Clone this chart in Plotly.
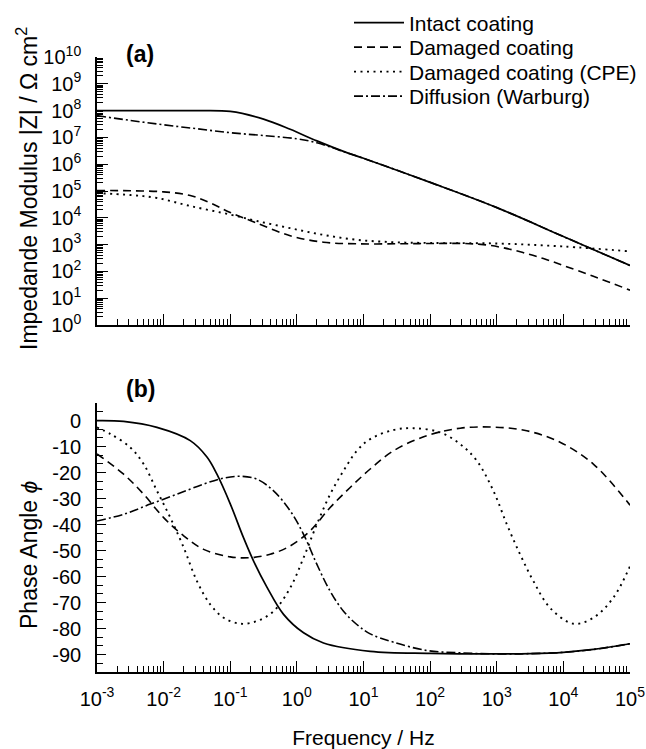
import plotly.graph_objects as go

# ---------------- data ----------------
# (a) impedance modulus |Z| / Ohm cm^2 versus frequency / Hz
f_intact_mod = [0.001, 0.01, 0.0316, 0.1, 0.316, 0.794, 2.0, 5.01, 10, 100, 1000, 10000, 100000]
z_intact = [1.0e8, 1.0e8, 1.0e8, 9.3e7, 4.8e7, 2.0e7, 7.4e6, 3.0e6, 1.66e6, 2.1e5, 2.4e4, 2.0e3, 1.66e2]

f_damaged_mod = [0.001, 0.00316, 0.01, 0.0251, 0.0501, 0.1, 0.251, 0.794, 2.51, 7.94, 31.6,
                 100, 316, 631, 1259, 2512, 5012, 10000, 28184, 100000]
z_damaged = [1.05e5, 1.02e5, 9.3e4, 6.8e4, 3.6e4, 1.58e4, 6.3e3, 2.14e3, 1.23e3, 1.07e3, 1.07e3,
             1.1e3, 1.1e3, 1.0e3, 7.6e2, 5.0e2, 3.0e2, 1.66e2, 66, 20]

f_cpe_mod = [0.001, 0.00316, 0.00794, 0.0251, 0.1, 0.251, 0.794, 2.51, 7.94, 28.2, 100, 1000, 10000, 100000]
z_cpe = [8.3e4, 7.1e4, 5.5e4, 2.75e4, 1.32e4, 7.6e3, 4.1e3, 2.3e3, 1.51e3, 1.23e3, 1.15e3, 1.1e3, 8.5e2, 5.6e2]

f_warburg_mod = [0.001, 0.00316, 0.01, 0.0316, 0.1, 0.316, 1.0, 2.0, 3.55, 5.01, 10, 100, 1000, 10000, 100000]
z_warburg = [6.5e7, 4.3e7, 2.95e7, 2.1e7, 1.5e7, 1.17e7, 8.9e6, 6.3e6, 4.0e6, 2.95e6, 1.66e6, 2.1e5, 2.4e4, 2.0e3, 1.66e2]

# (b) phase angle / degree versus frequency / Hz
f_intact_ph = [0.001, 0.00251, 0.00794, 0.0251, 0.0447, 0.0631, 0.1, 0.158, 0.224, 0.355, 0.631,
               1.26, 2.51, 12.6, 100, 1000, 3162, 10000, 28184, 100000]
ph_intact = [0, -0.3, -2.6, -7.7, -14, -20.6, -32, -45, -54, -64, -74.5,
             -81.6, -85.5, -88.7, -89.5, -89.7, -89.6, -89.1, -88, -85.8]

f_damaged_ph = [0.001, 0.00251, 0.00501, 0.01, 0.02, 0.0398, 0.1, 0.2, 0.398, 0.794, 1.58, 3.16,
                6.31, 12.6, 28.2, 89.1, 282, 891, 2818, 8913, 28184, 100000]
ph_damaged = [-12.8, -20.6, -28.3, -37.3, -44.3, -49.5, -52.4, -52.7, -51.4, -48.2, -42.4, -33.4,
              -25.7, -18.6, -11.6, -5.8, -2.9, -2.5, -3.9, -8.3, -16.7, -32.5]

f_cpe_ph = [0.001, 0.00158, 0.00316, 0.00501, 0.00794, 0.0126, 0.02, 0.0316, 0.0501, 0.0794, 0.141,
            0.251, 0.447, 0.794, 1.26, 2.0, 3.16, 5.01, 7.94, 12.6, 28.2, 56.2, 141, 282, 501, 891,
            1413, 2239, 3548, 6310, 14125, 28184, 56234, 100000]
ph_cpe = [-2.6, -5.1, -10.3, -16.7, -27, -37.3, -48.8, -61.7, -70.7, -75.8, -78.1,
          -77.1, -73.3, -64.3, -52.7, -39.8, -28.3, -19.3, -11.6, -7.1, -3.6, -2.9, -4.5, -9, -15.4, -27,
          -39.8, -51.4, -61.7, -72, -78.1, -75.8, -68.1, -56]

f_warburg_ph = [0.001, 0.00251, 0.00631, 0.0158, 0.0398, 0.0794, 0.141, 0.251, 0.447, 0.794, 1.26,
                2.0, 3.16, 5.01, 7.94, 12.6, 28.2, 89.1, 282, 1000, 3162, 10000, 28184, 100000]
ph_warburg = [-38.6, -36, -32.1, -28.3, -24.4, -22.1, -21.4, -22.5, -27, -34.7, -43.7,
              -55.3, -65.6, -73.3, -78.4, -82.0, -85.2, -88.4, -89.3, -89.7, -89.6, -89.1, -88, -85.8]

series_names = ["Intact coating", "Damaged coating", "Damaged coating (CPE)", "Diffusion (Warburg)"]

x_tick_vals = [1e-3, 1e-2, 1e-1, 1e0, 1e1, 1e2, 1e3, 1e4, 1e5]
x_tick_text = ["10<sup>-3</sup>", "10<sup>-2</sup>", "10<sup>-1</sup>", "10<sup>0</sup>", "10<sup>1</sup>",
               "10<sup>2</sup>", "10<sup>3</sup>", "10<sup>4</sup>", "10<sup>5</sup>"]
y1_tick_vals = [1e0, 1e1, 1e2, 1e3, 1e4, 1e5, 1e6, 1e7, 1e8, 1e9, 1e10]
y1_tick_text = ["10<sup>0</sup>", "10<sup>1</sup>", "10<sup>2</sup>", "10<sup>3</sup>", "10<sup>4</sup>",
                "10<sup>5</sup>", "10<sup>6</sup>", "10<sup>7</sup>", "10<sup>8</sup>", "10<sup>9</sup>",
                "10<sup>10</sup>"]
y2_tick_vals = [0, -10, -20, -30, -40, -50, -60, -70, -80, -90]
y2_tick_text = ["0", "-10", "-20", "-30", "-40", "-50", "-60", "-70", "-80", "-90"]

# ---------------- styling ----------------
FONT = "Liberation Sans, Arial, Helvetica, sans-serif"
styles = [
    dict(color="black", width=1.7, dash="solid"),
    dict(color="black", width=1.6, dash="8px,5px"),
    dict(color="black", width=1.9, dash="2px,4.5px"),
    dict(color="black", width=1.6, dash="9px,3px,2px,3px"),
]
legend_ids = ["legend", "legend2", "legend3", "legend4"]
legend_rows_px = [23, 47.5, 72, 96.5]

fig = go.Figure()

mods = [(f_intact_mod, z_intact), (f_damaged_mod, z_damaged), (f_cpe_mod, z_cpe), (f_warburg_mod, z_warburg)]
phs = [(f_intact_ph, ph_intact), (f_damaged_ph, ph_damaged), (f_cpe_ph, ph_cpe), (f_warburg_ph, ph_warburg)]

draw_order = [3, 2, 1, 0]
for i in draw_order:
    fx, zy = mods[i]
    fig.add_trace(go.Scatter(x=fx, y=zy, mode="lines", name=series_names[i],
                             line=dict(shape="spline", smoothing=1.0, **styles[i]),
                             xaxis="x", yaxis="y", legend=legend_ids[i], showlegend=True))
for i in draw_order:
    fx, py = phs[i]
    fig.add_trace(go.Scatter(x=fx, y=py, mode="lines", name=series_names[i],
                             line=dict(shape="spline", smoothing=1.0, **styles[i]),
                             xaxis="x2", yaxis="y2", showlegend=False))

W, H = 646, 749
ml, mr, mt, mb = 97, 16, 57, 77
plot_w = W - ml - mr
plot_h = H - mt - mb
top_lo = (H - mb - 325) / plot_h
bot_hi = (H - mb - 403.3) / plot_h


def px_x(px):
    return (px - ml) / plot_w


def px_y(py):
    return (H - mb - py) / plot_h


common = dict(showline=True, linecolor="black", linewidth=1.6, ticks="inside", tickcolor="black",
              ticklen=11, tickwidth=1.3, showgrid=False, zeroline=False, mirror=False,
              tickfont=dict(family=FONT, size=20, color="black"))
minor_log = dict(ticks="inside", ticklen=6, tickwidth=1.1, tickcolor="black", dtick="D1", showgrid=False)

legends = {}
for k, lid in enumerate(legend_ids):
    legends[lid] = dict(xref="container", yref="container", x=349 / W, y=1 - legend_rows_px[k] / H,
                        xanchor="left", yanchor="middle", bgcolor="rgba(0,0,0,0)", borderwidth=0,
                        itemwidth=50, font=dict(family=FONT, size=21, color="black"))

fig.update_layout(
    width=W, height=H, margin=dict(l=ml, r=mr, t=mt, b=mb, autoexpand=False),
    paper_bgcolor="white", plot_bgcolor="white",
    font=dict(family=FONT, color="black"),
    xaxis=dict(common, type="log", range=[-3, 5], domain=[0, 1], anchor="y",
               tickmode="array", tickvals=x_tick_vals, ticktext=x_tick_text, showticklabels=False,
               minor=minor_log),
    yaxis=dict(common, type="log", range=[0, 10], domain=[top_lo, 1], anchor="x",
               tickmode="array", tickvals=y1_tick_vals, ticktext=y1_tick_text, minor=minor_log,
               ticklabelstandoff=10),
    xaxis2=dict(common, type="log", range=[-3, 5], domain=[0, 1], anchor="y2",
                tickmode="array", tickvals=x_tick_vals, ticktext=x_tick_text, minor=minor_log,
                ticklabelstandoff=8,
                title=dict(text="Frequency / Hz", font=dict(family=FONT, size=21, color="black"), standoff=22)),
    yaxis2=dict(common, range=[-96.67, 6.67], domain=[0, bot_hi], anchor="x2",
                tickmode="array", tickvals=y2_tick_vals, ticktext=y2_tick_text, ticklen=9,
                ticklabelstandoff=10,
                minor=dict(ticks="inside", ticklen=6, tickwidth=1.1, tickcolor="black",
                           tick0=0, dtick=10 / 3, showgrid=False)),
    annotations=[
        dict(text="Impedande Modulus |Z| / Ω cm<sup>2</sup>", xref="paper", yref="paper",
             x=px_x(27), y=px_y(189), textangle=-90, xanchor="center", yanchor="middle",
             showarrow=False, font=dict(family=FONT, size=23, color="black")),
        dict(text="Phase Angle <i>ϕ</i>", xref="paper", yref="paper",
             x=px_x(29), y=px_y(555), textangle=-90, xanchor="center", yanchor="middle",
             showarrow=False, font=dict(family=FONT, size=23, color="black")),
        dict(text="<b>(a)</b>", xref="paper", yref="paper", x=px_x(140), y=px_y(54),
             xanchor="center", yanchor="middle", showarrow=False,
             font=dict(family=FONT, size=23, color="black")),
        dict(text="<b>(b)</b>", xref="paper", yref="paper", x=px_x(140), y=px_y(389),
             xanchor="center", yanchor="middle", showarrow=False,
             font=dict(family=FONT, size=23, color="black")),
    ],
    **legends,
)

# remove the browser's default 8px page margin so the figure sits at the window's top-left corner
fig.write_html("out.html", config={"displayModeBar": False},
               post_script="document.body.style.margin='0px';")
